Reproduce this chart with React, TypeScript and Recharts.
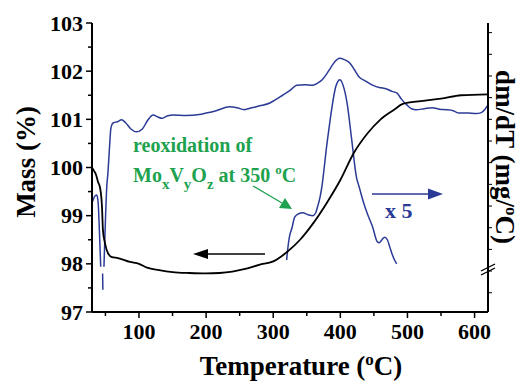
import React from 'react';
import { ComposedChart, Line, XAxis, YAxis } from 'recharts';

// mass curve (left axis, %)
const massT = [30, 33, 36, 39, 42, 44.9, 46.3, 49.3, 53.8, 59.7, 68.6, 86.5, 100, 112, 130, 150, 175, 200, 220, 239, 260, 279, 300, 321, 340, 360, 380, 400, 420, 440, 460, 480, 493, 520, 550, 580, 620];
const massV = [100.0, 99.93, 99.85, 99.7, 99.58, 99.18, 98.7, 98.43, 98.22, 98.14, 98.12, 98.04, 98.0, 97.92, 97.87, 97.83, 97.81, 97.8, 97.81, 97.84, 97.9, 97.98, 98.05, 98.25, 98.5, 98.85, 99.27, 99.74, 100.3, 100.7, 101.0, 101.2, 101.32, 101.38, 101.43, 101.5, 101.52];

// dm/dT curve (right axis, arbitrary units), null = gap in trace
const dtgT = [30, 34, 37, 39, 41, 43, 44.5, 45.8, 46.2, 47, 47.8, 50, 52, 53.8, 56, 58, 60, 62, 68, 74, 80, 88, 96, 105, 113, 121, 128, 134, 142, 151, 170, 190, 200, 215, 235, 246, 257, 268, 280, 295, 305, 314, 325, 335, 347, 359, 366, 373, 380, 386, 392, 399, 406, 414, 421, 428, 437, 448, 458, 463, 469, 477, 484, 491, 499, 506, 513, 525, 537, 548, 558, 568, 577, 590, 602, 610, 615, 620];
const dtgV = [99.26, 99.4, 99.43, 99.3, 98.7, 97.94, null, 97.8, 97.46, null, 97.94, 98.9, 99.6, 99.9, 100.4, 100.8, 100.9, 100.93, 100.95, 100.99, 100.93, 100.8, 100.74, 100.8, 100.98, 101.09, 101.05, 101.02, 101.07, 101.09, 101.08, 101.1, 101.13, 101.18, 101.26, 101.24, 101.2, 101.24, 101.28, 101.34, 101.42, 101.5, 101.6, 101.71, 101.72, 101.71, 101.75, 101.82, 101.95, 102.08, 102.2, 102.27, 102.24, 102.17, 102.03, 101.88, 101.8, 101.71, 101.66, 101.65, 101.63, 101.58, 101.55, 101.42, 101.3, 101.22, 101.2, 101.22, 101.24, 101.21, 101.2, 101.18, 101.13, 101.13, 101.12, 101.14, 101.2, 101.3];

// dm/dT magnified x5 (320-485 C)
const x5T = [320, 322, 324, 328, 332, 338, 344, 352, 359, 363, 366, 370, 373, 376, 379, 383, 387, 393, 396, 399, 402, 404, 410, 417, 424, 428, 434, 440, 448, 455, 458, 462, 466, 470, 475, 480, 484];
const x5V = [98.08, 98.35, 98.55, 98.75, 98.97, 99.04, 99.06, 99.02, 99.0, 99.05, 99.18, 99.4, 99.65, 100.0, 100.37, 100.8, 101.2, 101.67, 101.78, 101.82, 101.78, 101.71, 101.34, 100.57, 99.8, 99.6, 99.3, 99.05, 98.77, 98.46, 98.44, 98.5, 98.55, 98.5, 98.29, 98.1, 98.0];

const xTicks = [50, 100, 150, 200, 250, 300, 350, 400, 450, 500, 550, 600];
const yTicks = [97, 97.5, 98, 98.5, 99, 99.5, 100, 100.5, 101, 101.5, 102, 102.5, 103];
const rTicks = [97.4, 97.85, 98.3, 98.75, 99.2, 99.65, 100.1, 100.55, 101.0, 101.45, 101.9, 102.35, 102.8];

const massData = massT.map((t, i) => ({ t, v: massV[i] }));
const dtgData = dtgT.map((t, i) => ({ t, v: dtgV[i] }));
const x5Data = x5T.map((t, i) => ({ t, v: x5V[i] }));

const SERIF = { fontFamily: 'Liberation Serif', fontWeight: 'bold' as const };
const BLUE = '#2b3a96';
const GREEN = '#1ea24f';

const BottomTick = (props: any) => {
  const { x, y, payload } = props;
  const major = payload.value % 100 === 0;
  return (
    <g>
      <line x1={x} y1={y} x2={x} y2={y + (major ? 6 : 4)} stroke="#000" strokeWidth={1.5} />
      {major && (
        <text x={x} y={y + 27} textAnchor="middle" fontSize={22} fill="#000" style={SERIF}>
          {payload.value}
        </text>
      )}
    </g>
  );
};

const TopTick = (props: any) => {
  const { x, y } = props;
  return <line x1={x} y1={y} x2={x} y2={y + 5} stroke="#000" strokeWidth={1.2} />;
};

const LeftTick = (props: any) => {
  const { x, y, payload } = props;
  const major = Number.isInteger(payload.value);
  return (
    <g>
      <line x1={x - (major ? 6 : 4)} y1={y} x2={x} y2={y} stroke="#000" strokeWidth={1.5} />
      {major && (
        <text x={x - 9} y={y + 7.5} textAnchor="end" fontSize={22} fill="#000" style={SERIF}>
          {payload.value}
        </text>
      )}
    </g>
  );
};

const RightTick = (props: any) => {
  const { x, y } = props;
  return <line x1={x} y1={y} x2={x + 4} y2={y} stroke="#000" strokeWidth={1} />;
};

export default function App() {
  return (
    <div style={{ position: 'absolute', left: 0, top: 0, width: 520, height: 382, background: '#fff' }}>
      <ComposedChart width={520} height={382} margin={{ top: 23, right: 0, bottom: 0, left: 0 }}>
        <XAxis
          xAxisId="b"
          type="number"
          dataKey="t"
          domain={[30, 620]}
          ticks={xTicks}
          interval={0}
          height={70}
          tickSize={0}
          tickMargin={0}
          tickLine={false}
          tick={<BottomTick />}
          axisLine={{ stroke: '#000', strokeWidth: 2 }}
          allowDataOverflow
        />
        <XAxis
          xAxisId="top"
          orientation="top"
          type="number"
          dataKey="t"
          domain={[30, 620]}
          ticks={xTicks}
          interval={0}
          height={0}
          tickSize={0}
          tickMargin={0}
          tickLine={false}
          tick={<TopTick />}
          axisLine={{ stroke: '#000', strokeWidth: 2 }}
          allowDataOverflow
        />
        <YAxis
          yAxisId="l"
          type="number"
          domain={[97, 103]}
          ticks={yTicks}
          interval={0}
          width={92}
          tickSize={0}
          tickMargin={0}
          tickLine={false}
          tick={<LeftTick />}
          axisLine={{ stroke: '#000', strokeWidth: 2 }}
          allowDataOverflow
        />
        <YAxis
          yAxisId="r"
          orientation="right"
          type="number"
          domain={[97, 103]}
          ticks={rTicks}
          interval={0}
          width={32}
          tickSize={0}
          tickMargin={0}
          tickLine={false}
          tick={<RightTick />}
          axisLine={{ stroke: '#000', strokeWidth: 2 }}
          allowDataOverflow
        />
        <Line xAxisId="b" yAxisId="r" data={dtgData} dataKey="v" type="monotone" stroke={BLUE} strokeWidth={1.5} dot={false} isAnimationActive={false} />
        <Line xAxisId="b" yAxisId="r" data={x5Data} dataKey="v" type="monotone" stroke={BLUE} strokeWidth={1.5} dot={false} isAnimationActive={false} />
        <Line xAxisId="b" yAxisId="l" data={massData} dataKey="v" type="monotone" stroke="#000" strokeWidth={1.8} dot={false} isAnimationActive={false} />
      </ComposedChart>
      <svg width={520} height={382} style={{ position: 'absolute', left: 0, top: 0, pointerEvents: 'none' }}>
        {/* axis titles */}
        <text x={301} y={375} textAnchor="middle" fontSize={27} fill="#000" style={SERIF}>
          Temperature (<tspan fontSize={17} dy={-10}>o</tspan><tspan dy={10}>C)</tspan>
        </text>
        <text transform="translate(35,162) rotate(-90)" textAnchor="middle" fontSize={27} fill="#000" style={SERIF}>
          Mass (%)
        </text>
        <text transform="translate(496,157) rotate(90)" textAnchor="middle" fontSize={27} fill="#000" style={SERIF}>
          dm/dT (mg/<tspan fontSize={17} dy={-10}>o</tspan><tspan dy={10}>C)</tspan>
        </text>
        {/* axis break on right axis */}
        <line x1={481} y1={271} x2={495} y2={264} stroke="#000" strokeWidth={1.3} />
        <line x1={481} y1={275} x2={495} y2={268} stroke="#000" strokeWidth={1.3} />
        {/* annotation */}
        <text x={133} y={152} fontSize={20} fill={GREEN} style={SERIF}>reoxidation of</text>
        <text x={133} y={182} fontSize={20} fill={GREEN} style={SERIF}>
          Mo<tspan fontSize={15} dy={7}>x</tspan>
          <tspan dy={-7}>V</tspan><tspan fontSize={15} dy={7}>y</tspan>
          <tspan dy={-7}>O</tspan><tspan fontSize={15} dy={7}>z</tspan>
          <tspan dy={-7}> at 350 </tspan><tspan fontSize={13} dy={-8}>o</tspan><tspan dy={8}>C</tspan>
        </text>
        <line x1={253} y1={186} x2={282} y2={203} stroke={GREEN} strokeWidth={1.3} />
        <polygon points="292,209 279,208 285,198" fill={GREEN} />
        {/* mass arrow */}
        <line x1={206} y1={254} x2={265} y2={254} stroke="#000" strokeWidth={1.5} />
        <polygon points="193,254 208,249 208,259" fill="#000" />
        {/* dm/dT arrow */}
        <line x1={372} y1={194} x2={430} y2={194} stroke={BLUE} strokeWidth={1.5} />
        <polygon points="443,194 428,188.5 428,199.5" fill={BLUE} />
        <text x={385} y={218} fontSize={22} fill={BLUE} style={SERIF}>x 5</text>
      </svg>
    </div>
  );
}
